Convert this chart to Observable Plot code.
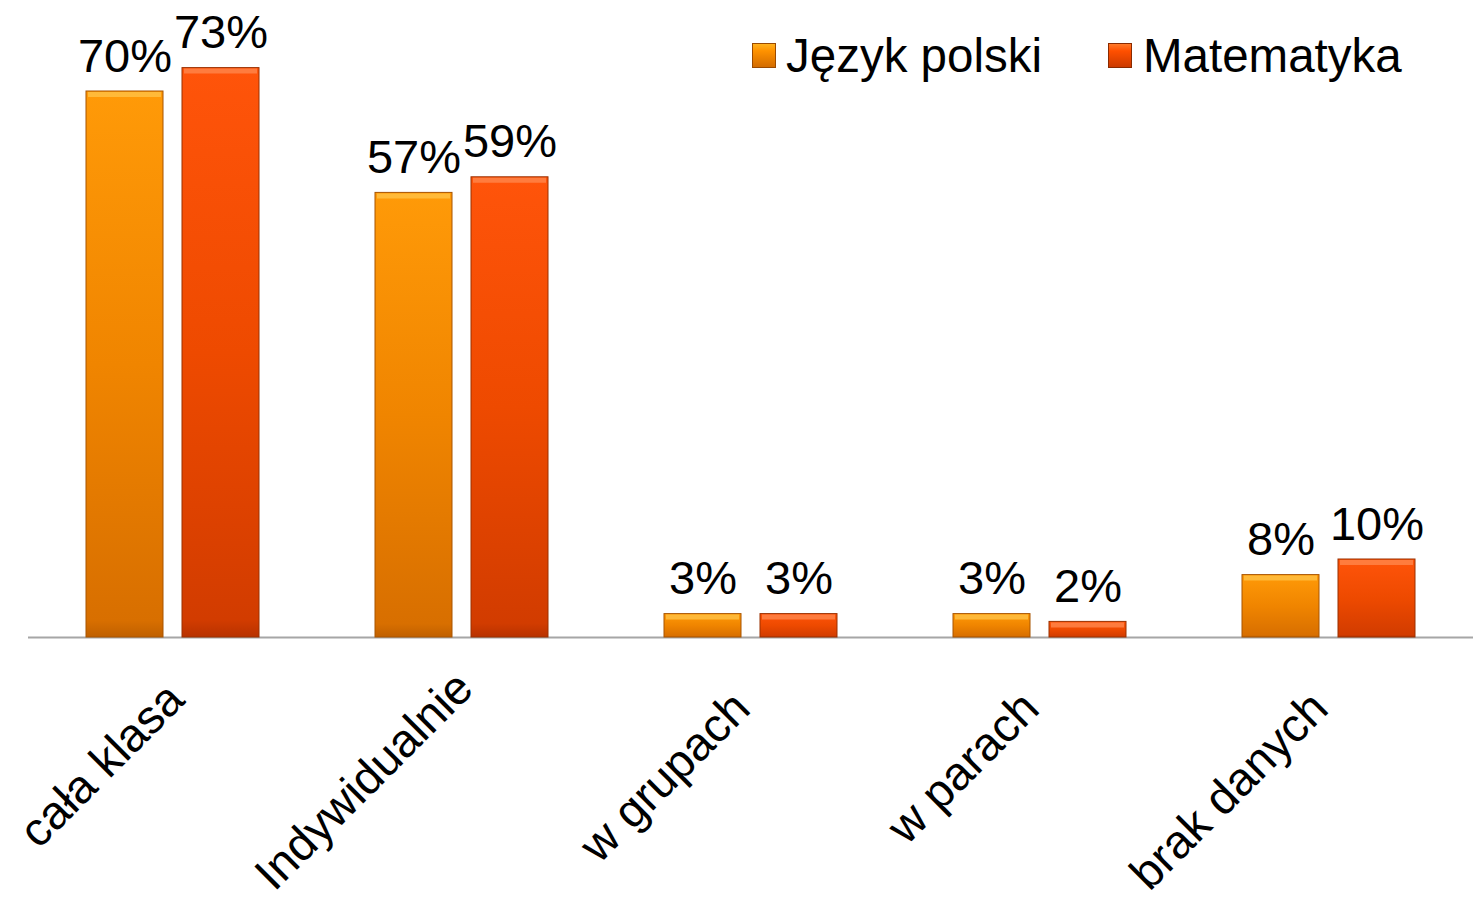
<!DOCTYPE html>
<html>
<head>
<meta charset="utf-8">
<script src="https://cdn.jsdelivr.net/npm/d3@7"></script>
<script src="https://cdn.jsdelivr.net/npm/@observablehq/plot@0.6"></script>
<style>
  html, body { margin: 0; padding: 0; background: white; }
  #wrap { position: relative; width: 1477px; height: 902px; font-family: "Liberation Sans", Arial, sans-serif; }
  .leg { position: absolute; top: 32px; height: 47px; line-height: 47px; font-size: 47.5px; color: #000; white-space: nowrap; }
  .sw { position: absolute; top: 43px; width: 24px; height: 25px; box-sizing: border-box; }
</style>
</head>
<body>
<div id="wrap">
  <div class="sw" style="left:752px; background: linear-gradient(#ffb21e, #ff9200 30%, #d36c00); border: 1px solid #9a4a00;"></div>
  <div class="leg" style="left:786px;">Język polski</div>
  <div class="sw" style="left:1108px; background: linear-gradient(#ff7a2a, #ff5000 30%, #cc3a00); border: 1px solid #8a2a00;"></div>
  <div class="leg" style="left:1143px;">Matematyka</div>
</div>
<script>
const categories = ["cała klasa", "Indywidualnie", "w grupach", "w parach", "brak danych"];
const series = ["Język polski", "Matematyka"];
const jezykPolski = [70, 57, 3, 3, 8];
const matematyka = [73, 59, 3, 2, 10];

const data = [];
categories.forEach((c, i) => {
  data.push({category: c, series: series[0], value: jezykPolski[i]});
  data.push({category: c, series: series[1], value: matematyka[i]});
});

// labels that would run off the picture are nudged along their direction (as in the original)
const firstLabel = categories.slice(0, 1);
const longLabels = categories.slice(1).filter(c => c.length > 12);
const otherLabels = categories.slice(1).filter(c => c.length <= 12);

const labelOpts = {text: d => d, frameAnchor: "bottom", rotate: -45, textAnchor: "end", lineAnchor: "top", fontSize: 47, fill: "#000"};

const chart = Plot.plot({
  width: 1477,
  height: 902,
  marginLeft: 28,
  marginRight: 4,
  marginTop: 13,
  marginBottom: 265,
  style: {fontFamily: "'Liberation Sans', Arial, sans-serif", fontSize: "47px", background: "transparent", overflow: "visible"},
  fx: {domain: categories, padding: 0, axis: null},
  x: {domain: series, paddingInner: 0.196, paddingOuter: 0.588, axis: null},
  y: {domain: [0, 80], axis: null},
  color: {domain: series, range: ["url(#gJP)", "url(#gM)"]},
  marks: [
    Plot.ruleY([0], {stroke: "#a6a6a6", strokeWidth: 2}),
    Plot.barY(data, {fx: "category", x: "series", y: "value", fill: "series", stroke: d => d.series === series[0] ? "#a85400" : "#9a3000", strokeWidth: 1}),
    Plot.tickY(data, {fx: "category", x: "series", y: "value", stroke: d => d.series === series[0] ? "#ffc44a" : "#ff8a50", strokeWidth: 5, dy: 3, insetLeft: 2, insetRight: 2, strokeOpacity: 0.75}),
    Plot.text(data, {fx: "category", x: "series", y: "value", text: d => d.value + "%", dy: -20, lineAnchor: "bottom", fontSize: 47, fill: "#000"}),
    Plot.text(otherLabels, {fx: d => d, ...labelOpts, dx: -22, dy: 50}),
    Plot.text(firstLabel, {fx: d => d, ...labelOpts, dx: -10, dy: 41}),
    Plot.text(longLabels, {fx: d => d, ...labelOpts, dx: -10, dy: 30})
  ]
});

const svg = d3.select(chart);
const defs = svg.insert("defs", ":first-child");
function grad(id, stops) {
  const g = defs.append("linearGradient").attr("id", id).attr("x1", 0).attr("y1", 0).attr("x2", 0).attr("y2", 1);
  stops.forEach(([o, c]) => g.append("stop").attr("offset", o).attr("stop-color", c));
}
grad("gJP", [[0, "#ff9a08"], [0.5, "#f08500"], [0.97, "#d86f00"], [1, "#c06000"]]);
grad("gM", [[0, "#ff540a"], [0.5, "#ee4a00"], [0.97, "#d23c00"], [1, "#b83200"]]);

chart.style.position = "absolute";
chart.style.left = "0px";
chart.style.top = "0px";
document.getElementById("wrap").prepend(chart);
</script>
</body>
</html>
